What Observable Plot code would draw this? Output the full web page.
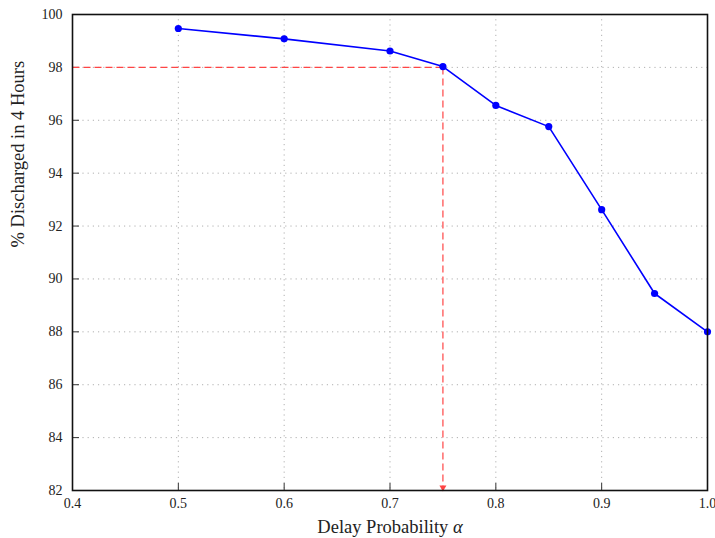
<!DOCTYPE html>
<html><head><meta charset="utf-8">
<script src="https://cdn.jsdelivr.net/npm/d3@7"></script>
<script src="https://cdn.jsdelivr.net/npm/@observablehq/plot@0.6"></script>
<style>body{margin:0;background:#fff;overflow:hidden}</style>
</head><body><div id="chart"></div>
<script>
// Data
const alphas = [0.5, 0.6, 0.7, 0.75, 0.8, 0.85, 0.9, 0.95, 1.0];
const discharged = [99.47, 99.08, 98.62, 98.03, 96.56, 95.76, 92.62, 89.45, 88.0];
const xTicks = [0.4, 0.5, 0.6, 0.7, 0.8, 0.9, 1.0];
const yTicks = [82, 84, 86, 88, 90, 92, 94, 96, 98, 100];
const xGrid = [0.5, 0.6, 0.7, 0.8, 0.9];
const yGrid = [84, 86, 88, 90, 92, 94, 96, 98];
const xDomain = [0.4, 1.0];
const yDomain = [82, 100];
const targetAlpha = 0.75;
const targetPct = 98;
const xLabel = "Delay Probability α";
const yLabel = "% Discharged in 4 Hours";

const data = alphas.map((a, i) => ({alpha: a, pct: discharged[i]}));
const guides = [
  {x1: xDomain[0], y1: targetPct, x2: targetAlpha, y2: targetPct},
  {x1: targetAlpha, y1: targetPct, x2: targetAlpha, y2: yDomain[0]}
];
const arrowTip = [{x: targetAlpha, y: yDomain[0]}];

const W = 715, H = 538;
const mL = 72, mR = 8, mT = 14, mB = 48;
const fw = W - mL - mR, fh = H - mT - mB;
const serif = "'Liberation Serif', 'DejaVu Serif', serif";
const red = "#ff4545";

const chart = Plot.plot({
  width: W, height: H,
  marginLeft: mL, marginRight: mR, marginTop: mT, marginBottom: mB,
  style: {fontFamily: serif, fontSize: "14px", color: "#222", background: "#fff", overflow: "visible"},
  x: {domain: xDomain},
  y: {domain: yDomain},
  marks: [
    Plot.ruleX(xGrid, {x: d => d, stroke: "#b0b0b0", strokeDasharray: "1.2,4", strokeWidth: 1}),
    Plot.ruleY(yGrid, {y: d => d, stroke: "#b0b0b0", strokeDasharray: "1.2,4", strokeWidth: 1}),
    Plot.axisX({ticks: xTicks, tickSize: 0, tickPadding: 8, tickFormat: d3.format(".1f"), label: null, fontSize: 14, fontFamily: serif}),
    Plot.axisY({ticks: yTicks, tickSize: 0, tickPadding: 10, tickFormat: d => String(d), label: null, fontSize: 14, fontFamily: serif}),
    Plot.ruleX(xTicks, {x: d => d, insetTop: fh - 7, stroke: "#333", strokeWidth: 1}),
    Plot.ruleY(yTicks, {y: d => d, insetRight: fw - 7, stroke: "#333", strokeWidth: 1}),
    Plot.link(guides, {x1: "x1", y1: "y1", x2: "x2", y2: "y2", stroke: red, strokeWidth: 1.2, strokeDasharray: "7,4"}),
    Plot.dot(arrowTip, {x: "x", y: "y", symbol: "triangle", rotate: 180, r: 2.6, dy: -3, fill: red, stroke: "none"}),
    Plot.line(data, {x: "alpha", y: "pct", stroke: "#0000ff", strokeWidth: 1.6}),
    Plot.dot(data, {x: "alpha", y: "pct", fill: "#0000ff", r: 3.6}),
    Plot.frame({stroke: "#111", strokeWidth: 1.6}),
    Plot.text([xLabel], {text: d => d, frameAnchor: "bottom", dy: 37, lineAnchor: "middle", fontSize: 18.5, fontFamily: serif, fill: "#222"}),
    Plot.text([yLabel], {text: d => d, frameAnchor: "left", dx: -54, dy: -5, rotate: -90, lineAnchor: "middle", fontSize: 18.5, fontFamily: serif, fill: "#222"})
  ]
});
document.getElementById("chart").appendChild(chart);
// italic alpha in x label
d3.select(chart).selectAll("text").each(function() {
  const t = d3.select(this);
  if (t.text() === xLabel) {
    t.text(null);
    t.append("tspan").text("Delay Probability ");
    t.append("tspan").attr("font-style", "italic").text("α");
  }
});
</script>
</body></html>
